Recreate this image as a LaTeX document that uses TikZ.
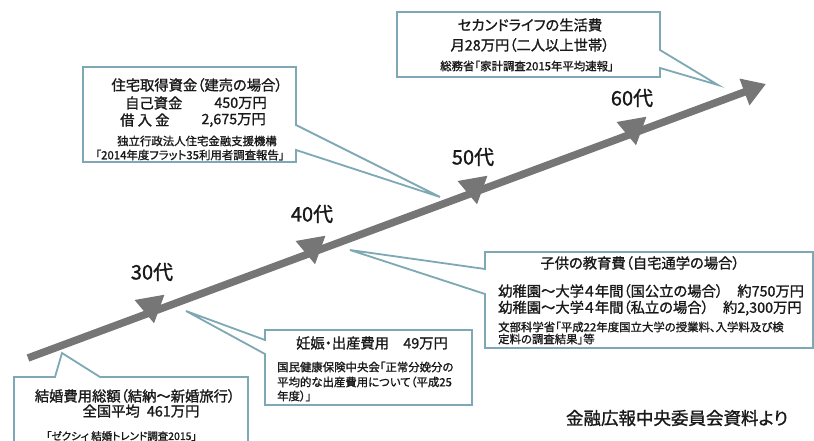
\documentclass[tikz,border=0pt]{standalone}
\usepackage{fontspec}
\setmainfont[RawFeature=+palt,FakeBold=1.2]{Noto Sans CJK JP}
\usetikzlibrary{arrows.meta,shapes.geometric,positioning}

\definecolor{timeline}{RGB}{118,118,118}
\definecolor{callline}{RGB}{125,168,180}
\definecolor{ink}{RGB}{25,25,25}

\begin{document}
\begin{tikzpicture}
  [x=1pt,y=-1pt,
   every node/.style={text=ink,inner sep=0pt},
   age/.style={font=\fontsize{20}{20}\selectfont},
   marker/.style={regular polygon,regular polygon sides=3,shape border rotate=180,
     rotate=10,fill=timeline,minimum size=35pt},
   callout/.style={draw=callline,line width=1.8pt,fill=white,line join=miter},
   big/.style={font=\fontsize{14.3}{16}\selectfont},
   small/.style={font=\fontsize{11.4}{12}\selectfont}]

  \clip (0,0) rectangle (814,441);
  \fill[white] (0,0) rectangle (814,441);

  % time line
  \coordinate (start) at (28,358);
  \coordinate (end) at (766,84);
  \draw[timeline,line width=7.5pt,-{Triangle[length=23pt,width=27pt]}] (start) -- (end);

  \node[marker] (m30) at (151,306) {};
  \node[marker] (m40) at (312,247) {};
  \node[marker] (m50) at (474,187) {};
  \node[marker] (m60) at (633,128) {};

  \node[age] (l30) at (152,272) {30代};
  \node[age] (l40) at (312,214) {40代};
  \node[age] (l50) at (473,157) {50代};
  \node[age] (l60) at (632,98) {60代};

  % callouts
  \coordinate (tip1) at (62,353);
  \coordinate (tip2) at (186,311);
  \coordinate (tip3) at (350,250);
  \coordinate (tip4) at (440,197);
  \coordinate (tip5) at (718,85);

  \draw[callout] (14,377) -- (55,377) -- (tip1) -- (100,377) -- (248,377)
    -- (248,450) -- (14,450) -- cycle;
  \draw[callout] (265,330) -- (472,330) -- (472,405) -- (265,405)
    -- (265,354) -- (tip2) -- (265,340) -- cycle;
  \draw[callout] (485,252) -- (813,252) -- (813,348) -- (485,348)
    -- (485,294) -- (tip3) -- (485,269) -- cycle;
  \draw[callout] (83,67) -- (296,67) -- (296,125) -- (tip4) -- (296,150)
    -- (296,162) -- (83,162) -- cycle;
  \draw[callout] (397,12) -- (660,12) -- (660,50) -- (tip5) -- (660,68)
    -- (660,77) -- (397,77) -- cycle;

  % texts
  \node[big] (wed) at (135,396) {結婚費用総額（結納～新婚旅行）};
  \node[big] (wedavg) at (141,411) {全国平均\enspace 461万円};
  \node[small,font=\fontsize{10.5}{12}\selectfont,anchor=west] (wedsrc) at (46,436) {「ゼクシィ 結婚トレンド調査2015」};

  \node[big] (birth) at (372,343) {妊娠・出産費用\quad 49万円};
  \node[small,anchor=west] (birthsrc1) at (277,367) {国民健康保険中央会「正常分娩分の};
  \node[small,anchor=west] (birthsrc2) at (277,382) {平均的な出産費用について（平成25};
  \node[small,anchor=west] (birthsrc3) at (277,396) {年度）」};

  \node[big] (edu) at (640,263) {子供の教育費（自宅通学の場合）};
  \node[big,anchor=west] (edupub) at (498,291) {幼稚園～大学４年間（国公立の場合）　約750万円};
  \node[big,anchor=west] (edupriv) at (498,308) {幼稚園～大学４年間（私立の場合）　約2,300万円};
  \node[small,anchor=west] (edusrc1) at (498,327) {文部科学省「平成22年度国立大学の授業料、入学料及び検};
  \node[small,anchor=west] (edusrc2) at (498,339) {定料の調査結果」等};

  \node[big] (house) at (197,85) {住宅取得資金（建売の場合）};
  \node[big,anchor=west] (own) at (125,103) {自己資金};
  \node[big,anchor=east] (ownval) at (267,103) {450万円};
  \node[big,anchor=west] (loan) at (120,120) {借\ 入\ 金};
  \node[big,anchor=east] (loanval) at (266,120) {2,675万円};
  \node[small,anchor=east] (housesrc1) at (277,141) {独立行政法人住宅金融支援機構};
  \node[small] (housesrc2) at (190,155) {「2014年度フラット35利用者調査報告」};

  \node[big] (life) at (530,25) {セカンドライフの生活費};
  \node[big] (lifecost) at (530,45) {月28万円（二人以上世帯）};
  \node[small] (lifesrc) at (527,66) {総務省「家計調査2015年平均速報」};

  \node[font=\fontsize{17.5}{18}\selectfont] (credit) at (677,418) {金融広報中央委員会資料より};
\end{tikzpicture}
\end{document}
